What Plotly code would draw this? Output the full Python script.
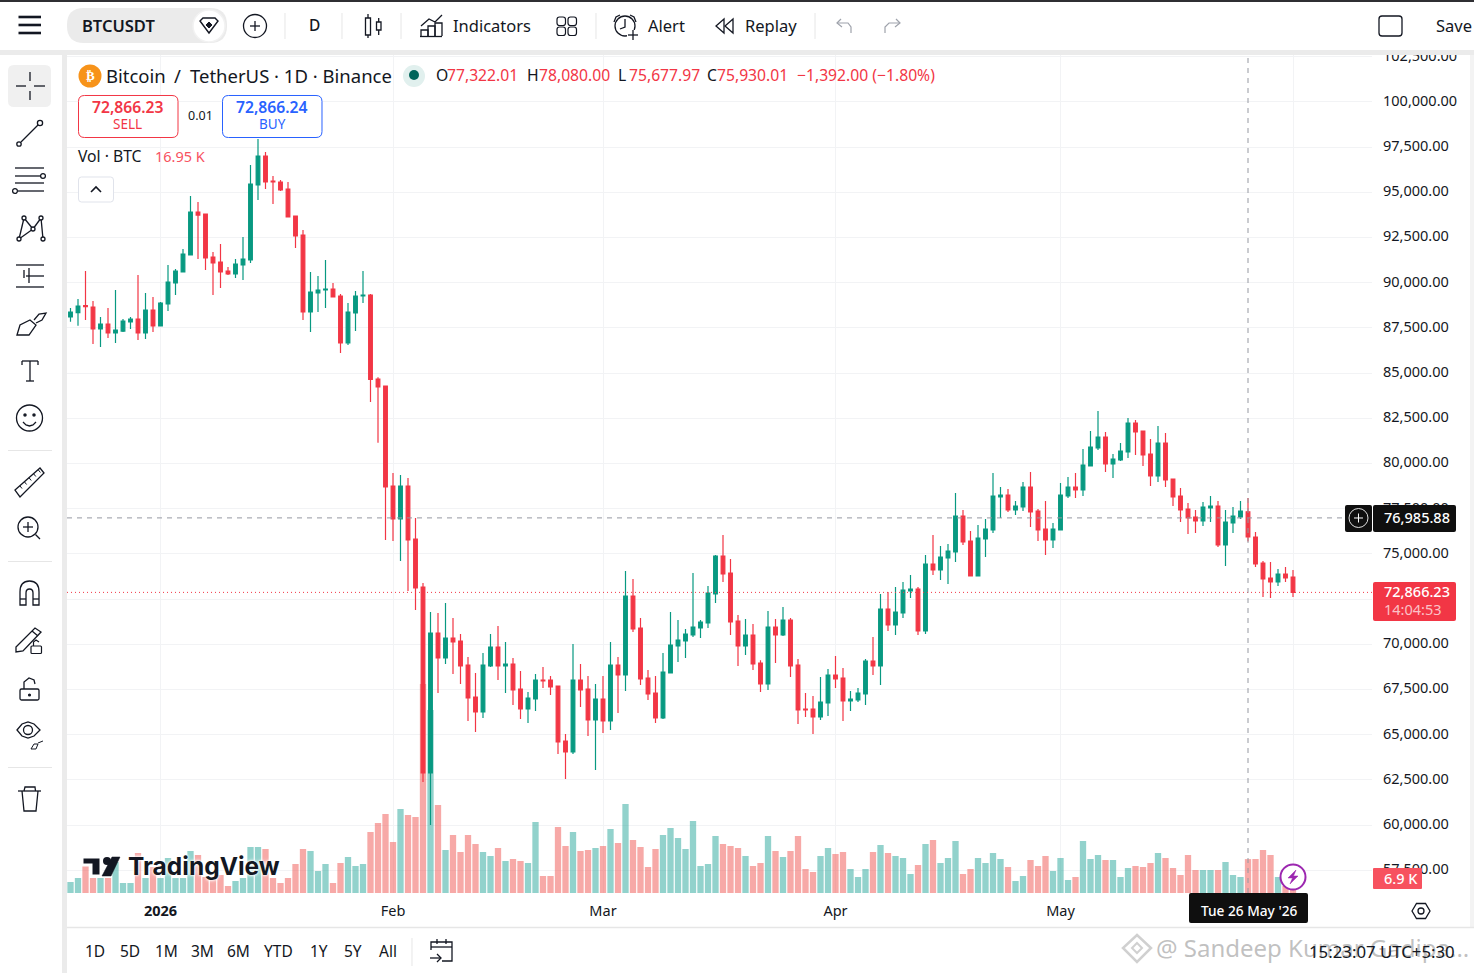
import pandas as pd
import plotly.graph_objects as go

W, H = 1474, 973
FONT = "Noto Sans"
INK = "#131722"
UP = "#089981"
DOWN = "#f23645"

# daily candles, 20 Dec 2025 to 1 Jun 2026
dates = pd.date_range("2025-12-20", periods=164, freq="D")
opens = [88097, 88337, 88724, 88650, 87433, 87710, 87212, 87322, 87820, 87986, 87212, 88484,
         87599, 88816, 89977, 90586, 91526, 93904, 93794, 91416, 91139, 90641, 90475, 90973,
         91250, 95398, 97002, 95619, 95564, 95177, 93683, 92632, 88373, 89424, 89590, 89646,
         89258, 86659, 88318, 89258, 89314, 84668, 84281, 78750, 76925, 78750, 75818, 73164,
         62876, 70619, 69236, 70343, 70177, 68849, 67079, 66250, 68794, 69845, 68794, 68905,
         67522, 66416, 66969, 68019, 68019, 67688, 64645, 64037, 68019, 67522, 65807, 66969,
         65751, 68849, 68296, 72666, 70896, 68130, 67300, 65918, 68407, 69900, 70177, 70509,
         70896, 71173, 72777, 74878, 73938, 71283, 69900, 70509, 68960, 67798, 70951, 70509,
         71338, 68849, 66416, 66416, 65973, 66748, 68296, 68130, 66858, 66913, 67245, 69071,
         68794, 71947, 71062, 71726, 72943, 73053, 70730, 74436, 74104, 74768, 75100, 77091,
         75708, 73772, 75819, 76317, 78142, 78253, 77423, 77589, 78695, 77367, 76372, 75763,
         76317, 78197, 78695, 78529, 79857, 80852, 81460, 79967, 80188, 80631, 82235, 81792,
         80520, 79303, 81129, 79137, 78197, 77478, 77036, 76814, 77533, 77644, 75487, 76704,
         77036, 77322.01, 75929, 74491, 73662, 73440, 73883, 73717]
highs = [88595, 89092, 90641, 88982, 88097, 88595, 89590, 87986, 88097, 90420, 89424, 89203,
         88927, 90973, 90752, 91858, 94789, 94458, 93794, 91692, 92135, 90862, 91305, 92522,
         96504, 97942, 97223, 95896, 95674, 95564, 93683, 92909, 90586, 90365, 91250, 89977,
         89369, 88871, 89535, 90641, 89369, 84760, 84281, 79469, 79358, 79192, 76980, 73385,
         71781, 71725, 72278, 71449, 70564, 69292, 68407, 69513, 70564, 71006, 70121, 69236,
         68517, 67356, 68351, 68739, 68241, 67688, 65033, 70010, 68905, 68241, 67798, 68241,
         70121, 69292, 74048, 73606, 71449, 68572, 68241, 69513, 71781, 71338, 70841, 73938,
         71338, 73219, 74934, 76040, 74712, 71615, 71394, 71117, 69108, 71836, 71394, 72057,
         71449, 69181, 67301, 67135, 68186, 68628, 69347, 68684, 67411, 67577, 69181, 70398,
         72777, 72887, 73164, 73440, 73827, 73164, 74934, 76040, 75432, 75542, 78363, 77423,
         76261, 76593, 76925, 79469, 78695, 78584, 77921, 78972, 79525, 77478, 77921, 76704,
         78916, 79248, 79469, 80797, 81792, 82899, 81737, 80520, 81129, 82511, 82401, 81792,
         81350, 82069, 81682, 79137, 78640, 77810, 77423, 77865, 78197, 77921, 77423, 77589,
         77921, 78080, 76206, 74602, 74547, 74159, 74270, 74104]
lows = [87839, 87618, 87931, 86603, 86437, 86935, 86659, 87267, 87433, 86825, 86880, 87267,
        87599, 88429, 89314, 90586, 91526, 91305, 90697, 89314, 89701, 90420, 90254, 90143,
        91084, 94568, 95177, 94347, 95066, 93628, 91913, 87931, 87267, 88373, 88595, 89203,
        86106, 86548, 87322, 88871, 83396, 81147, 75763, 75708, 74602, 72942, 71891, 62378,
        59999, 67301, 68905, 68351, 67798, 65751, 65143, 65918, 68739, 68019, 67301, 66637,
        65862, 65641, 66305, 67577, 67190, 63927, 62543, 63927, 66526, 64922, 63042, 65088,
        65254, 66194, 67411, 70674, 67743, 66913, 65641, 65862, 68407, 69015, 69237, 70398,
        70343, 70896, 72279, 73440, 70509, 68794, 69403, 68573, 67356, 67467, 68960, 70453,
        68186, 65586, 65973, 65033, 65807, 66029, 67577, 65752, 66305, 66803, 66637, 68296,
        67743, 70730, 70509, 71449, 72555, 70509, 70564, 73827, 73551, 73330, 74546, 75487,
        73772, 73772, 74823, 76151, 76980, 77312, 77146, 77367, 76483, 75708, 74934, 75321,
        76317, 78087, 78087, 78197, 79857, 80741, 79525, 79193, 80133, 80299, 80465, 79857,
        78750, 78972, 78695, 77644, 76759, 76095, 76151, 76538, 76759, 75376, 74325, 76151,
        76925, 75677.97, 74270, 72611, 72555, 73219, 73440, 72611]
closes = [88373, 88705, 88668, 87433, 87710, 87212, 87378, 87876, 87986, 87212, 88484, 87599,
          88871, 90033, 90641, 91581, 93904, 93738, 91360, 91084, 90586, 90475, 91028, 91305,
          95453, 97002, 95564, 95564, 95121, 93628, 92577, 88373, 89479, 89590, 89646, 89203,
          86659, 88373, 89258, 89314, 84650, 84226, 78695, 76925, 78750, 75763, 73108, 62876,
          70619, 69236, 70343, 70121, 68794, 67024, 66250, 68849, 69845, 68794, 68905, 67466,
          66416, 67024, 68019, 67964, 67632, 64590, 64037, 68019, 67466, 65807, 66969, 65751,
          68849, 68296, 72666, 70840, 68075, 67245, 65918, 68462, 69956, 70232, 70564, 70951,
          71228, 72832, 74878, 73883, 71228, 69900, 70509, 68905, 67798, 70951, 70509, 71338,
          68794, 66360, 66360, 65973, 66803, 68296, 68075, 66858, 66969, 67301, 69071, 68794,
          71947, 71062, 71781, 72998, 73053, 70730, 74436, 74104, 74823, 75155, 77091, 75653,
          73772, 75874, 76372, 78197, 78253, 77423, 77644, 78695, 77312, 76317, 75763, 76372,
          78253, 78695, 78529, 79912, 80907, 81460, 79967, 80244, 80686, 82235, 81737, 80465,
          79303, 81129, 79082, 78142, 77423, 76980, 76814, 77589, 77644, 75487, 76759, 77091,
          77367, 75930.01, 74436, 73606, 73440, 73883, 73662, 72866.23]
volumes_k = [5.5, 7.5, 14, 7.5, 7.5, 7.5, 15.5, 5, 5, 20, 7.5, 13,
             7.5, 17.5, 7.5, 7.5, 21, 19, 8, 7.5, 9, 3.5, 6, 7.5,
             23, 23, 22, 7.5, 5, 7.5, 14.5, 22, 21, 11, 14.5, 5,
             15, 18, 13.5, 14.5, 30.5, 35, 39.5, 25.5, 42, 39, 38, 104.5,
             91.5, 44, 21.5, 29, 20.5, 29, 24.5, 20.5, 18.5, 22.5, 16, 17,
             16, 15, 35.5, 8.5, 8.5, 33, 23.5, 30.5, 21, 21.5, 22.5, 23.5,
             32, 25, 44.5, 26.5, 23, 13, 22, 29, 32.5, 27.5, 22, 36,
             13.5, 14.5, 28.5, 24.5, 23.5, 22.5, 18.5, 13.5, 15, 28.5, 21, 18,
             21, 28.5, 12, 10.5, 18.5, 22.5, 19.5, 20.5, 12, 8, 12, 20.5,
             24, 20, 18.5, 17.5, 9.5, 14, 24.5, 26.5, 15, 17.5, 26, 9.5,
             12, 17.5, 15, 20, 17, 13, 6, 8.5, 16.5, 13.5, 18.5, 11,
             17.5, 6.5, 8, 26, 17, 19, 16.5, 16.5, 8, 12.5, 13.5, 13,
             15, 20, 17.5, 12.5, 9, 19, 11.5, 11.5, 11.5, 11.5, 15.5, 9,
             8, 16.95, 17, 21.5, 19, 8, 3.5, 6.9]

price_ticks = [57500 + 2500 * i for i in range(19)]
month_ticks = ["2026-01-01", "2026-02-01", "2026-03-01", "2026-04-01", "2026-05-01", "2026-06-01"]
month_labels = ["<b>2026</b>", "Feb", "Mar", "Apr", "May", "Jun"]
crosshair_date = "2026-05-26"
crosshair_price = 76985.88
last_price = 72866.23


# everything around the chart is placed in screen pixels on the paper
def px(x):
    return x / W


def py(y):
    return 1 - y / H


shapes = []
annotations = []


def poly(points, color=INK, width=1.3, fill=None, closed=False):
    d = "M" + " L".join(f"{px(x):.5f},{py(y):.5f}" for x, y in points)
    if closed:
        d += " Z"
    shapes.append(dict(type="path", path=d, xref="paper", yref="paper", layer="above",
                       fillcolor=fill or "rgba(0,0,0,0)", line=dict(color=color, width=width)))


def line(x0, y0, x1, y1, color=INK, width=1.3):
    poly([(x0, y0), (x1, y1)], color, width)


def rect(x0, y0, x1, y1, fill="rgba(0,0,0,0)", color=None, width=1, r=0):
    c = lambda x, y: f"{px(x):.5f},{py(y):.5f}"
    d = (f"M{c(x0 + r, y0)} L{c(x1 - r, y0)} Q{c(x1, y0)} {c(x1, y0 + r)} L{c(x1, y1 - r)} "
         f"Q{c(x1, y1)} {c(x1 - r, y1)} L{c(x0 + r, y1)} Q{c(x0, y1)} {c(x0, y1 - r)} "
         f"L{c(x0, y0 + r)} Q{c(x0, y0)} {c(x0 + r, y0)} Z")
    shapes.append(dict(type="path", path=d, xref="paper", yref="paper", layer="above", fillcolor=fill,
                       line=dict(color=color or "rgba(0,0,0,0)", width=width if color else 0)))


def circle(cx, cy, r, color=INK, width=1.3, fill="rgba(0,0,0,0)"):
    shapes.append(dict(type="circle", xref="paper", yref="paper", layer="above",
                       x0=px(cx - r), x1=px(cx + r), y0=py(cy + r), y1=py(cy - r), fillcolor=fill,
                       line=dict(color=color, width=width)))


def label(x, y, text, size=14, color=INK, anchor="left", family=FONT, weight=None, shadow=None):
    font = dict(size=size, color=color, family=family)
    if weight:
        font["weight"] = weight
    if shadow:
        font["shadow"] = shadow
    # small nudge, the browser sets this font slightly low and to the right
    if anchor == "left":
        x -= 0.8
    annotations.append(dict(x=px(x), y=py(y - 0.8), xref="paper", yref="paper", text=text, showarrow=False,
                            xanchor=anchor, yanchor="middle", font=font, borderpad=0))


# ---- crosshair and last price lines
shapes.append(dict(type="line", xref="x domain", yref="y2", x0=0, x1=1, y0=last_price, y1=last_price,
                   layer="above", line=dict(color=DOWN, width=1, dash="1px,3px")))
shapes.append(dict(type="line", xref="x domain", yref="y2", x0=0, x1=1, y0=crosshair_price, y1=crosshair_price,
                   layer="above", line=dict(color="#9598a1", width=1, dash="5px,5px")))
shapes.append(dict(type="line", xref="x", yref="y2 domain", x0=crosshair_date, x1=crosshair_date, y0=0, y1=1,
                   layer="above", line=dict(color="#9598a1", width=1, dash="5px,5px")))

# ---- frame
GRAY = "#ebebeb"
rect(0, 0, W, 55, fill="white")
rect(0, 0, W, 2, fill="#2f2f33")
rect(0, 50, W, 55, fill=GRAY)
rect(0, 55, 62, H, fill="white")
rect(62, 55, 67, H, fill=GRAY)
rect(67, 927, W, H, fill="white")
rect(1470, 55, W, 927, fill="#f3f3f3")
line(67, 927.5, W, 927.5, "#e6e6e6", 1.5)

# ---- top toolbar
for yy in (17, 25, 33):
    line(18.5, yy, 41, yy, "#131722", 2.6)
rect(67, 8, 227, 43, fill=GRAY, r=17)
label(82, 26, "BTCUSDT", 16.5, weight=600)
circle(209, 26, 16, color="#f2f2f2", width=1.5, fill="white")
poly([(200, 21), (203, 18), (215, 18), (218, 21), (209, 33)], width=1.4, closed=True)
poly([(209, 22), (212, 25), (209, 28), (206, 25)], width=1, fill=INK, closed=True)
circle(255, 26, 11.5)
line(250, 26, 260, 26)
line(255, 21, 255, 31)
line(285, 13, 285, 39, "#e6e6e6", 1)
label(314, 26, "D", 15.5, anchor="center", weight=500)
line(342, 13, 342, 39, "#e6e6e6", 1)
rect(365.5, 18, 370.5, 35, color=INK, width=1.3)
line(368, 14, 368, 18)
line(368, 35, 368, 38)
rect(376.5, 22, 381, 30, color=INK, width=1.3)
line(378.7, 18, 378.7, 22)
line(378.7, 30, 378.7, 35)
line(401, 13, 401, 39, "#e6e6e6", 1)
poly([(421, 36), (421, 30), (428, 30), (428, 36)])
poly([(428, 36), (428, 26), (435, 26), (435, 36)])
poly([(435, 36), (435, 23), (442, 23), (442, 36)])
line(420, 36.5, 442, 36.5)
poly([(421, 26), (429, 19), (435, 22), (442, 15)])
label(453, 26, "Indicators", 16.5)
for sx in (557, 568):
    for sy in (17, 27):
        rect(sx, sy, sx + 8.5, sy + 8.5, color=INK, width=1.2, r=2.5)
line(596, 13, 596, 39, "#e6e6e6", 1)
circle(625, 26, 10)
poly([(625, 19), (625, 27), (620, 29)])
poly([(614, 22), (616, 17), (620, 15)])
poly([(636, 22), (634, 17), (630, 15)])
rect(627, 30, 640, 40, fill="white")
line(628, 35, 638, 35)
line(633, 30, 633, 40)
label(648, 26, "Alert", 16.5)
poly([(724, 19), (716, 26), (724, 33)], closed=True)
poly([(733, 19), (725, 26), (733, 33)], closed=True)
label(745, 26, "Replay", 16.5)
line(815, 13, 815, 39, "#e6e6e6", 1)
poly([(841, 19), (837, 23), (842, 27)], "#9ea2ab", 1.2)
poly([(837, 23), (848, 23), (851, 27), (851, 33)], "#9ea2ab", 1.2)
poly([(896, 19), (900, 23), (895, 27)], "#9ea2ab", 1.2)
poly([(900, 23), (889, 23), (885, 27), (885, 33)], "#9ea2ab", 1.2)
rect(1379, 16, 1402, 36, color=INK, width=1.3, r=3)
label(1436, 26, "Save", 16.5)

# ---- left toolbar
rect(8, 65, 51, 107, fill="#f0f0f0", r=6)
line(16, 86, 26, 86)
line(34, 86, 45, 86)
line(30, 72, 30, 81)
line(30, 91, 30, 100)
circle(19, 144, 2.2)
circle(40, 123, 2.6)
line(21, 142, 38, 125)
line(15, 168, 44, 168)
line(15, 176, 41, 176)
circle(43, 176, 2.4)
line(15, 183, 44, 183)
line(18, 191, 44, 191)
circle(15, 191, 2.4)
for a, b in [((19, 239), (24, 218)), ((24, 218), (33, 229)), ((33, 229), (41, 218)),
             ((41, 218), (43, 239)), ((19, 239), (33, 229))]:
    line(a[0], a[1], b[0], b[1])
for n in [(19, 239), (24, 218), (33, 229), (41, 218), (43, 239)]:
    circle(n[0], n[1], 2, fill="white")
for yy, x0 in ((265, 16), (276, 26), (287, 16)):
    line(x0, yy, 44, yy)
line(29, 268, 29, 283)
line(24, 270, 24, 278)
poly([(17, 335), (20, 325), (30, 320), (36, 325), (29, 335)], closed=True)
poly([(34, 320), (39, 314), (46, 313), (42, 320), (36, 323)])
line(22, 361, 38, 361)
line(22, 361, 22, 365)
line(38, 361, 38, 365)
line(30, 361, 30, 381)
line(26, 381, 34, 381)
circle(29.5, 418, 13)
circle(25, 415, 1.1, fill=INK)
circle(34, 415, 1.1, fill=INK)
poly([(23, 422), (26, 425), (29.5, 426), (33, 425), (36, 422)])
line(8, 450.5, 52, 450.5, "#e6e6e6", 1)
poly([(15, 490), (40, 468), (44, 473), (20, 497)], closed=True)
for t in range(5):
    tx, ty = 20 + t * 4.6, 486 - t * 4
    line(tx, ty, tx + 2, ty + 2.5, width=1)
circle(28, 527, 10)
line(23, 527, 33, 527)
line(28, 522, 28, 532)
line(35.5, 534.5, 40, 539)
line(8, 561.5, 52, 561.5, "#e6e6e6", 1)
shapes.append(dict(type="path", xref="paper", yref="paper", layer="above", fillcolor="rgba(0,0,0,0)",
                   line=dict(color=INK, width=1.3),
                   path=(f"M{px(20)},{py(605)} L{px(20)},{py(592)} Q{px(20)},{py(581)} {px(29.5)},{py(581)} "
                         f"Q{px(39)},{py(581)} {px(39)},{py(592)} L{px(39)},{py(605)} L{px(33)},{py(605)} "
                         f"L{px(33)},{py(593)} Q{px(33)},{py(589)} {px(29.5)},{py(589)} "
                         f"Q{px(26)},{py(589)} {px(26)},{py(593)} L{px(26)},{py(605)} Z")))
line(20, 599, 26, 599)
line(33, 599, 39, 599)
poly([(16, 647), (35, 628), (41, 632), (23, 651), (16, 652)], closed=True)
line(32, 631, 38, 636)
rect(31, 646, 41.5, 653.5, fill="white", color=INK, width=1.2, r=1)
poly([(33.5, 646), (33.5, 642), (36, 640), (39, 642)], width=1.2)
rect(20, 689, 39, 700, color=INK, width=1.3, r=1.5)
poly([(24, 689), (24, 682), (29, 678), (34, 680), (35, 684)])
circle(29.5, 695, 0.9, fill=INK)
poly([(17, 730), (22, 724), (28, 722), (34, 724), (40, 730), (34, 736), (28, 738), (22, 736)], closed=True)
circle(28, 730, 4.5)
poly([(31, 749), (34, 744), (38, 744), (36, 749)], width=1, closed=True)
line(38, 743, 43, 741, width=1)
line(8, 767.5, 52, 767.5, "#e6e6e6", 1)
line(18, 791, 41, 791)
poly([(24, 791), (25, 787), (35, 787), (35.5, 791)])
poly([(22, 791), (24, 811), (36, 811), (38, 791)])

# ---- legend block
circle(90, 76, 11.5, color="#f7931a", width=0, fill="#f7931a")
label(90, 76, "<b>₿</b>", 13, "white", "center", family="DejaVu Sans")
label(106, 76, "Bitcoin", 18.5)
label(174, 76, "/", 18.5)
label(190, 76, "TetherUS · 1D · Binance", 18.5)
circle(414, 76, 11, color="#e1f0ee", width=0, fill="#e1f0ee")
circle(414, 75, 5, color="#00645a", width=0, fill="#00645a")
for x_letter, letter, x_value, value in [(436, "O", 447, "77,322.01"), (527, "H", 539, "78,080.00"),
                                         (618, "L", 629, "75,677.97"), (707, "C", 717, "75,930.01")]:
    label(x_letter, 76, letter, 15.7)
    label(x_value, 76, value, 15.7, DOWN)
label(797, 76, "−1,392.00 (−1.80%)", 15.7, DOWN)

rect(78.5, 95.5, 178, 137.5, fill="white", color=DOWN, width=1, r=6)
label(128, 108, "72,866.23", 15.7, DOWN, "center", weight=600)
label(128, 125, "SELL", 13.5, DOWN, "center")
label(200, 116, "0.01", 12.5, INK, "center")
rect(222.5, 95.5, 322, 137.5, fill="white", color="#2962ff", width=1, r=6)
label(272, 108, "72,866.24", 15.7, "#2962ff", "center", weight=600)
label(272, 125, "BUY", 13.5, "#2962ff", "center")
label(78, 157, "Vol · BTC", 15.7)
label(155, 157, "16.95 K", 14.5, "#f7525f")
rect(78.5, 177, 113.5, 202, fill="white", color="#e0e3eb", width=1, r=3)
poly([(91, 192), (96, 187), (101, 192)], width=1.6)

# ---- TradingView logo
HALO = "0 0 2px white, 0 0 3px white, 0 0 4px white"
poly([(82, 857), (101, 857), (101, 876), (91, 876), (91, 865), (82, 865)], color="white", width=3, fill="#131722", closed=True)
circle(107, 861, 4, color="#131722", width=0, fill="#131722")
poly([(112, 857), (120, 857), (111, 876), (102, 876)], color="#131722", width=0.5, fill="#131722", closed=True)
label(128, 867, "TradingView", 24.5, "#131722", family="Inter", weight=700, shadow=HALO)

# ---- price tags on the axis
rect(1345, 505, 1372, 532, fill="#0f0f0f", r=2)
circle(1358.5, 518, 9.5, color="#e0e0e0", width=1)
line(1354, 518, 1363, 518, "white", 1)
line(1358.5, 513.5, 1358.5, 522.5, "white", 1)
rect(1373, 505, 1456, 532, fill="#0f0f0f", r=2)
label(1384, 518, "76,985.88", 14.5, "white", weight=500)
rect(1373, 582, 1456, 621, fill=DOWN, r=2)
label(1384, 592, "72,866.23", 14.5, "white", weight=500)
label(1384, 610, "14:04:53", 14.5, "#fbc2c7")
rect(1373, 868, 1422, 889, fill="#f7525f", r=1)
label(1384, 878.5, "6.9 K", 14.5, "white", weight=500)

# ---- date tag, axis settings, alert icon
rect(1189, 893, 1308, 923, fill="#0f0f0f", r=2)
label(1248.5, 911, "Tue 26 May '26", 13.7, "white", "center", weight=500)
poly([(1412, 911), (1416.5, 903.5), (1425.5, 903.5), (1430, 911), (1425.5, 918.5), (1416.5, 918.5)], closed=True)
circle(1421, 911, 3)
circle(1293, 877, 12.5, color="#9c27b0", width=2, fill="white")
poly([(1296, 870), (1288, 878), (1292.5, 878), (1290, 884), (1298, 876), (1293.5, 876)],
     color="#9c27b0", width=0.5, fill="#9c27b0", closed=True)

# ---- bottom bar
for x_text, text in [(85, "1D"), (120, "5D"), (155, "1M"), (191, "3M"), (227, "6M"), (264, "YTD"),
                     (310, "1Y"), (344, "5Y"), (379, "All")]:
    label(x_text, 952, text, 15.5)
line(412, 938, 412, 966, "#e6e6e6", 1)
poly([(431, 950), (431, 942), (452, 942), (452, 961), (442, 961)])
line(431, 947, 452, 947)
line(437, 939, 437, 944)
line(446, 939, 446, 944)
line(430, 958, 441, 958)
poly([(437, 954), (441, 958), (437, 962)])

# watermark over the clock
poly([(1137, 935), (1151, 948), (1137, 962), (1123, 948)], "rgba(150,150,150,0.45)", 2.5, closed=True)
poly([(1137, 943), (1142, 948), (1137, 953), (1132, 948)], "rgba(150,150,150,0.45)", 2, closed=True)
label(1156, 948, "@ Sandeep Kumar Gadipa...", 24, "rgba(140,140,140,0.55)")
label(1309, 952, "15:23:07 UTC+5:30", 16.8, INK)

# ---- traces
volume_colors = ["rgba(38,166,154,0.5)" if c >= o else "rgba(239,83,80,0.5)" for o, c in zip(opens, closes)]

fig = go.Figure()
fig.add_trace(go.Bar(x=dates, y=volumes_k, marker=dict(color=volume_colors, line=dict(width=0)),
                     width=0.84 * 86400000, yaxis="y", hoverinfo="skip"))
fig.add_trace(go.Candlestick(
    x=dates, open=opens, high=highs, low=lows, close=closes, yaxis="y2", whiskerwidth=0,
    increasing=dict(line=dict(color=UP, width=1.2), fillcolor=UP),
    decreasing=dict(line=dict(color=DOWN, width=1.2), fillcolor=DOWN),
    hoverinfo="skip",
))

GRID = "#f2f3f5"
domain_x = [67 / W, 1372 / W]
domain_y = [(H - 893) / H, (H - 52) / H]

fig.update_layout(
    width=W, height=H, margin=dict(l=0, r=0, t=0, b=0, pad=0, autoexpand=False),
    paper_bgcolor="white", plot_bgcolor="white", showlegend=False, hovermode=False,
    font=dict(family=FONT, color=INK),
    shapes=shapes, annotations=annotations,
    xaxis=dict(domain=domain_x, type="date", range=["2025-12-19 12:48", "2026-06-11 12:48"],
               rangeslider=dict(visible=False), tickmode="array", tickvals=month_ticks, ticktext=month_labels,
               showgrid=True, gridcolor=GRID, zeroline=False, showline=False, ticks="", ticklabelstandoff=7,
               tickfont=dict(size=14.5, color=INK)),
    yaxis=dict(domain=domain_y, range=[0, 420.5], visible=False, showgrid=False, zeroline=False),
    yaxis2=dict(domain=domain_y, overlaying="y", side="right", anchor="x",
                range=[56239, 102755], tickmode="array", tickvals=price_ticks, tickformat=",.2f",
                showgrid=True, gridcolor=GRID, zeroline=False, showline=False, ticks="", ticklabelstandoff=10,
                ticklabelshift=-1, tickfont=dict(size=14.5, color=INK)),
)

fig.write_html("out.html", config=dict(displayModeBar=False),
               post_script="document.body.style.margin='0';document.body.style.overflow='hidden';")
